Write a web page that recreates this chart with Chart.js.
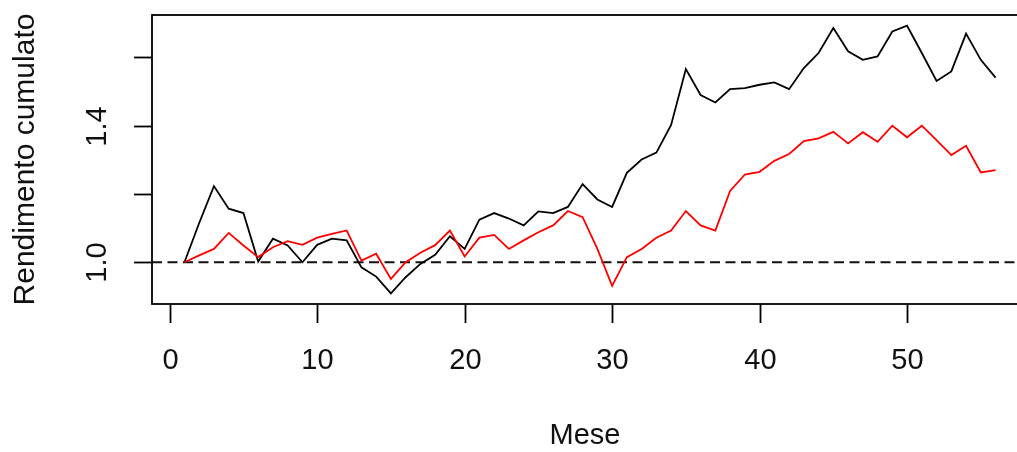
<!DOCTYPE html>
<html lang="it">
<head>
<meta charset="UTF-8">
<title>Rendimento cumulato</title>
<script src="https://cdn.jsdelivr.net/npm/chart.js"></script>
<style>
    html, body {
        margin: 0;
        padding: 0;
        background: #fff;
        overflow: hidden;
    }
    canvas {
        display: block;
    }
</style>
</head>
<body>
<canvas id="chart" width="1050" height="452"></canvas>
<script>
    // mesi 1..56
    const mesi = Array.from({ length: 56 }, (_, i) => i + 1);

    // rendimento cumulato del portafoglio (nero)
    const portafoglio = [
        1.000, 1.115, 1.223, 1.157, 1.144, 1.002, 1.069, 1.049, 1.000, 1.051,
        1.069, 1.064, 0.985, 0.958, 0.909, 0.956, 0.995, 1.022, 1.076, 1.039,
        1.125, 1.144, 1.128, 1.108, 1.149, 1.144, 1.162, 1.229, 1.184, 1.162,
        1.262, 1.301, 1.321, 1.402, 1.566, 1.490, 1.468, 1.507, 1.510, 1.520,
        1.527, 1.507, 1.569, 1.613, 1.686, 1.618, 1.593, 1.603, 1.676, 1.693,
        1.613, 1.531, 1.559, 1.670, 1.593, 1.541
    ];

    // rendimento cumulato del benchmark (rosso)
    const benchmark = [
        1.000, 1.020, 1.039, 1.086, 1.049, 1.015, 1.044, 1.062, 1.051, 1.072,
        1.083, 1.093, 1.005, 1.025, 0.951, 1.000, 1.028, 1.050, 1.093, 1.017,
        1.072, 1.080, 1.039, 1.064, 1.088, 1.108, 1.150, 1.132, 1.039, 0.931,
        1.015, 1.039, 1.072, 1.093, 1.150, 1.108, 1.093, 1.209, 1.257, 1.265,
        1.297, 1.317, 1.355, 1.363, 1.382, 1.348, 1.381, 1.353, 1.400, 1.366,
        1.400, 1.358, 1.314, 1.341, 1.263, 1.270
    ];

    const xTicks = [0, 10, 20, 30, 40, 50];
    const yTicks = [1.0, 1.2, 1.4, 1.6];
    const yLabels = ['1.0', '', '1.4', ''];
    const livello = 1.0;

    // range con estensione del 4% come in R
    function range4(vals) {
        const lo = Math.min(...vals), hi = Math.max(...vals);
        const d = (hi - lo) * 0.04;
        return [lo - d, hi + d];
    }
    const [xMin, xMax] = range4(mesi);
    const [yMin, yMax] = range4(portafoglio.concat(benchmark));

    const font = '"Liberation Sans", Arial, sans-serif';

    // box, assi, etichette e linea tratteggiata in stile grafico base
    const assiR = {
        id: 'assiR',
        beforeDatasetsDraw(chart) {
            const ctx = chart.ctx;
            const area = chart.chartArea;
            const y = chart.scales.y.getPixelForValue(livello);
            ctx.save();
            ctx.strokeStyle = '#111';
            ctx.lineWidth = 2;
            ctx.setLineDash([10, 5.5]);
            ctx.beginPath();
            ctx.moveTo(area.left, y);
            ctx.lineTo(area.right, y);
            ctx.stroke();
            ctx.restore();
        },
        afterDraw(chart) {
            const ctx = chart.ctx;
            const area = chart.chartArea;
            const xs = chart.scales.x;
            const ys = chart.scales.y;
            ctx.save();
            ctx.strokeStyle = '#000';
            ctx.lineWidth = 1.8;
            ctx.strokeRect(area.left, area.top, area.right - area.left, area.bottom - area.top);

            ctx.fillStyle = '#111';
            ctx.font = '29px ' + font;

            // asse x
            ctx.textAlign = 'center';
            ctx.textBaseline = 'middle';
            xTicks.forEach(v => {
                const px = Math.round(xs.getPixelForValue(v)) + 0.5;
                ctx.beginPath();
                ctx.moveTo(px, area.bottom);
                ctx.lineTo(px, area.bottom + 19);
                ctx.stroke();
                ctx.fillText(String(v), px, 361);
            });

            // asse y
            yTicks.forEach((v, i) => {
                const py = Math.round(ys.getPixelForValue(v)) + 0.5;
                ctx.beginPath();
                ctx.moveTo(area.left, py);
                ctx.lineTo(area.left - 18, py);
                ctx.stroke();
                if (yLabels[i]) {
                    ctx.save();
                    ctx.translate(98, py);
                    ctx.rotate(-Math.PI / 2);
                    ctx.fillText(yLabels[i], 0, 0);
                    ctx.restore();
                }
            });

            // titoli
            ctx.fillText('Mese', 585, 436);
            ctx.save();
            ctx.font = '30px ' + font;
            ctx.translate(26, (area.top + area.bottom) / 2);
            ctx.rotate(-Math.PI / 2);
            ctx.fillText('Rendimento cumulato', 0, 0);
            ctx.restore();
            ctx.restore();
        }
    };

    new Chart(document.getElementById('chart'), {
        type: 'line',
        data: {
            labels: mesi,
            datasets: [
                {
                    label: 'Benchmark',
                    data: mesi.map((m, i) => ({ x: m, y: benchmark[i] })),
                    borderColor: '#ff0000',
                    borderWidth: 1.8,
                    pointRadius: 0,
                    tension: 0,
                    order: 0
                },
                {
                    label: 'Portafoglio',
                    data: mesi.map((m, i) => ({ x: m, y: portafoglio[i] })),
                    borderColor: '#000000',
                    borderWidth: 1.8,
                    pointRadius: 0,
                    tension: 0,
                    order: 1
                }
            ]
        },
        options: {
            responsive: false,
            animation: false,
            events: [],
            layout: {
                padding: { left: 152, top: 15, right: 22, bottom: 148 }
            },
            plugins: {
                legend: { display: false },
                tooltip: { enabled: false }
            },
            scales: {
                x: { type: 'linear', min: xMin, max: xMax, display: false },
                y: { type: 'linear', min: yMin, max: yMax, display: false }
            }
        },
        plugins: [assiR]
    });
</script>
</body>
</html>
